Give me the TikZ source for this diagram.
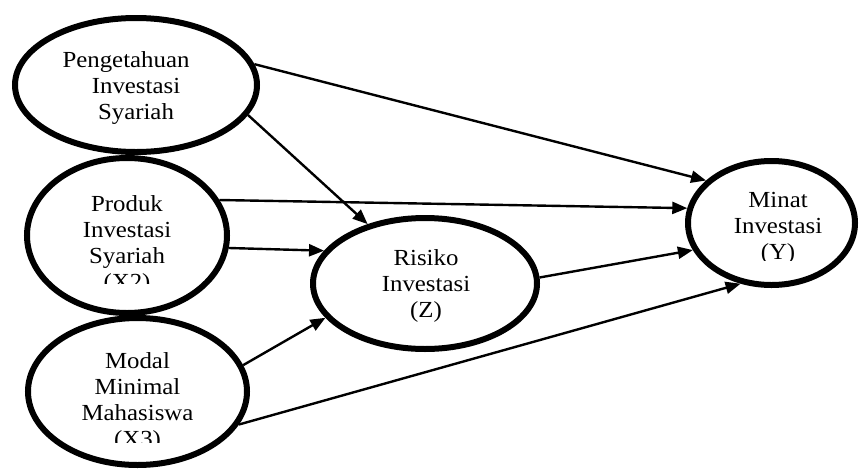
\documentclass[tikz,border=0pt]{standalone}
\usepackage{fontspec}
\setmainfont[FakeStretch=1.08]{Liberation Serif}
\usetikzlibrary{shapes.geometric,arrows.meta}
\tikzset{
  ell/.style={draw=black, line width=6pt, ellipse, inner sep=0pt, fill=none},
  lbl/.style={align=center, inner sep=0pt, anchor=base, font=\fontsize{23}{26}\selectfont},
  conn/.style={line width=2.4pt, -{Triangle[length=15pt,width=12pt]}}
}
\begin{document}
\begin{tikzpicture}[x=1pt,y=-1pt]
\useasboundingbox (0,0) rectangle (862,469);
% ellipses
\node[ell, minimum width=242pt, minimum height=134pt] (x1) at (136,85) {};
\node[ell, minimum width=200pt, minimum height=155pt] (x2) at (127,235.5) {};
\node[ell, minimum width=219pt, minimum height=147pt] (x3) at (137.5,391.5) {};
\node[ell, minimum width=224pt, minimum height=131pt] (z) at (425,283.5) {};
\node[ell, minimum width=167pt, minimum height=124pt] (y) at (771.5,223) {};
% labels (anchor base = baseline of the last line)
\node[lbl] (t1) at (126,119) {Pengetahuan\\\hspace*{20pt}Investasi\\\hspace*{20pt}Syariah};
\begin{scope}
  \clip (20,150) rectangle (240,283);
  \node[lbl] (t2) at (127,289) {Produk\\Investasi\\Syariah\\(X2)};
\end{scope}
\begin{scope}
  \clip (20,320) rectangle (260,442);
  \node[lbl] (t3) at (137.5,446) {Modal\\Minimal\\Mahasiswa\\(X3)};
\end{scope}
\node[lbl] (tz) at (426,317) {Risiko\\Investasi\\(Z)};
\begin{scope}
  \clip (690,160) rectangle (855,260);
  \node[lbl] (ty) at (778,259) {Minat\\Investasi\\(Y)};
\end{scope}
% connectors
\draw[conn] (x1.10) -- (y.147);
\draw[conn] (x1.-15) -- (z.134);
\draw[conn] (x2.21) -- (y.170);
\draw[conn] (x2.-7) -- (z.162);
\draw[conn] (x3.14) -- (z.199);
\draw[conn] (x3.-18) -- (y.243);
\draw[conn] (z.3) -- (y.199);
\end{tikzpicture}
\end{document}
